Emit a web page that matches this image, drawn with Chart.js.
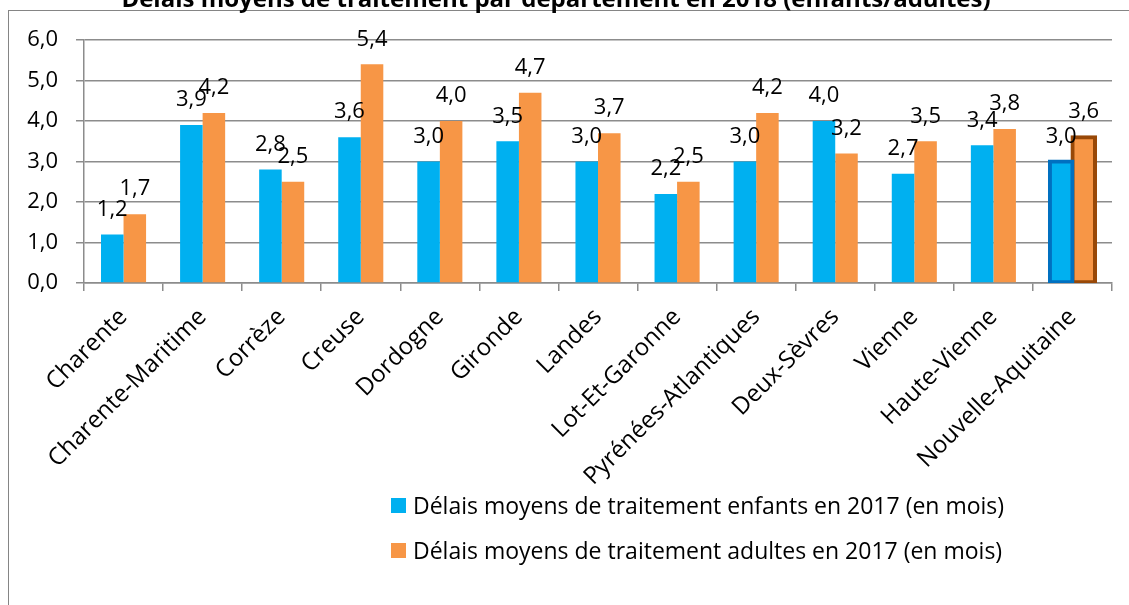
<!DOCTYPE html>
<html lang="fr">
<head>
<meta charset="utf-8">
<title>Délais moyens de traitement</title>
<script src="https://cdn.jsdelivr.net/npm/chart.js@4.4.1/dist/chart.umd.min.js"></script>
<style>
  html, body { margin: 0; padding: 0; background: #fff; width: 1129px; height: 605px; overflow: hidden; }
  .cadre { position: absolute; left: 8px; top: 10px; width: 1200px; height: 700px; border-left: 1px solid #858585; border-top: 1px solid #858585; }
  .graph { position: absolute; left: 0; top: -14px; width: 1129px; height: 530px; }
  .legende { position: absolute; left: 391px; font-family: "Open Sans", sans-serif; font-size: 23px; color: #000; }
  .legende div { display: flex; align-items: center; height: 26px; white-space: nowrap; }
  .legende div + div { margin-top: 19px; }
  .legende span.carre { display: inline-block; width: 15px; height: 15px; margin-right: 7px; }
</style>
</head>
<body>
<div class="cadre"></div>
<div class="graph"><canvas id="delaisChart"></canvas></div>
<div class="legende" id="legende" style="top:492px"></div>

<script>
const departements = ['Charente', 'Charente-Maritime', 'Corrèze', 'Creuse', 'Dordogne', 'Gironde', 'Landes',
  'Lot-Et-Garonne', 'Pyrénées-Atlantiques', 'Deux-Sèvres', 'Vienne', 'Haute-Vienne', 'Nouvelle-Aquitaine'];
const enfants2017 = [1.2, 3.9, 2.8, 3.6, 3.0, 3.5, 3.0, 2.2, 3.0, 4.0, 2.7, 3.4, 3.0];
const adultes2017 = [1.7, 4.2, 2.5, 5.4, 4.0, 4.7, 3.7, 2.5, 4.2, 3.2, 3.5, 3.8, 3.6];
const yMin = 0;
const yMax = 6;
const yPas = 1;

const titre = 'Délais moyens de traitement par département en 2018 (enfants/adultes)';
const libelleEnfants = 'Délais moyens de traitement enfants en 2017 (en mois)';
const libelleAdultes = 'Délais moyens de traitement adultes en 2017 (en mois)';

const bleu = '#00B0F0';
const orange = '#F79646';
const gris = '#8c8c8c';
const police = '"Open Sans", sans-serif';
const dernier = departements.length - 1;

function formatVal(v) {
  return Number(v).toFixed(1).replace('.', ',');
}

// valeurs au-dessus des barres
const etiquettes = {
  id: 'etiquettes',
  afterDatasetsDraw(chart) {
    const ctx = chart.ctx;
    ctx.save();
    ctx.font = '22px ' + police;
    ctx.fillStyle = '#000';
    ctx.textAlign = 'center';
    ctx.textBaseline = 'middle';
    chart.data.datasets.forEach((ds, i) => {
      chart.getDatasetMeta(i).data.forEach((bar, j) => {
        ctx.fillText(formatVal(ds.data[j]), bar.x, bar.y - 25);
      });
    });
    ctx.restore();
  }
};

const ctx = document.getElementById('delaisChart').getContext('2d');

new Chart(ctx, {
  type: 'bar',
  data: {
    labels: departements,
    datasets: [{
      label: libelleEnfants,
      data: enfants2017,
      backgroundColor: bleu,
      borderColor: departements.map((d, i) => i === dernier ? '#0070C0' : bleu),
      borderWidth: departements.map((d, i) => i === dernier ? 4 : 0),
      inflateAmount: c => c.dataIndex === dernier ? 2 : 'auto',
      borderSkipped: false
    }, {
      label: libelleAdultes,
      data: adultes2017,
      backgroundColor: orange,
      borderColor: departements.map((d, i) => i === dernier ? '#984807' : orange),
      borderWidth: departements.map((d, i) => i === dernier ? 4 : 0),
      inflateAmount: c => c.dataIndex === dernier ? 2 : 'auto',
      borderSkipped: false
    }]
  },
  options: {
    responsive: true,
    maintainAspectRatio: false,
    animation: false,
    categoryPercentage: 0.57,
    barPercentage: 1,
    layout: { padding: { left: 0, right: 17, top: 0, bottom: 8 } },
    plugins: {
      legend: { display: false },
      tooltip: { enabled: false },
      title: {
        display: true,
        text: titre,
        color: '#000',
        font: { family: police, size: 24, weight: 'bold' },
        padding: { top: 0, bottom: 25.2 }
      }
    },
    scales: {
      x: {
        grid: { drawOnChartArea: false, drawTicks: true, tickLength: 8, color: gris, lineWidth: 1.5 },
        border: { color: gris, width: 1.5 },
        ticks: {
          autoSkip: false,
          minRotation: 45,
          maxRotation: 45,
          color: '#000',
          padding: 12,
          font: { family: police, size: 24 }
        },
        afterFit(scale) { scale.height = 225; }
      },
      y: {
        min: yMin,
        max: yMax,
        grid: { color: gris, lineWidth: 1.5, tickLength: 8 },
        border: { color: gris, width: 1.5 },
        ticks: {
          stepSize: yPas,
          color: '#000',
          padding: 18,
          font: { family: police, size: 22 },
          callback: v => formatVal(v)
        },
        afterFit(scale) { scale.width = 84; }
      }
    }
  },
  plugins: [etiquettes]
});

// légende
const legende = document.getElementById('legende');
[[bleu, libelleEnfants], [orange, libelleAdultes]].forEach(([couleur, texte]) => {
  const ligne = document.createElement('div');
  ligne.innerHTML = `<span class="carre" style="background:${couleur}"></span><span>${texte}</span>`;
  legende.appendChild(ligne);
});
</script>
</body>
</html>
